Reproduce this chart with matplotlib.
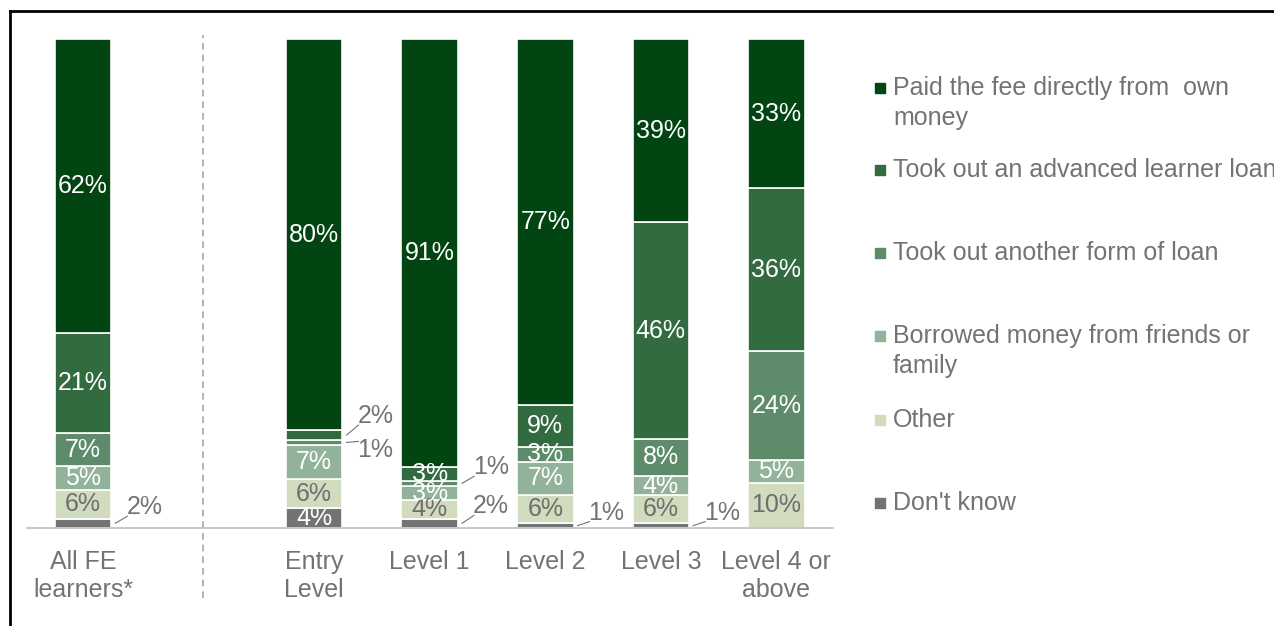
import matplotlib.pyplot as plt
import numpy as np
from matplotlib.lines import Line2D

plt.rcParams['font.family'] = ['Liberation Sans', 'DejaVu Sans']

categories = ['All FE\nlearners*', 'Entry\nLevel', 'Level 1', 'Level 2', 'Level 3', 'Level 4 or\nabove']
series = ['Paid the fee directly from  own\nmoney',
          'Took out an advanced learner loan',
          'Took out another form of loan',
          'Borrowed money from friends or\nfamily',
          'Other',
          "Don't know"]

# percentages per category (rows) and funding source (columns)
paid_own = [62, 80, 91, 77, 39, 33]
adv_loan = [21, 2, 3, 9, 46, 36]
other_loan = [7, 1, 1, 3, 8, 24]
friends = [5, 7, 3, 7, 4, 5]
other = [6, 6, 4, 6, 6, 10]
dont_know = [2, 4, 2, 1, 1, 0]

colors = ['#024412', '#336B41', '#5E8C6A', '#92B29A', '#D1DBBD', '#737373']
label_colors = ['white', 'white', 'white', 'white', '#6E6E6E', 'white']
grey = '#737373'
fs = 18

xpos = np.array([0, 2, 3, 4, 5, 6])
bw = 0.49

# small segments labelled outside the bar: (category, series) -> label offset in px
outside = {(0, 5): 16, (1, 1): 19, (1, 2): -8, (2, 2): 16, (2, 5): 17,
           (3, 5): 13, (4, 5): 13}

fig = plt.figure(figsize=(12.74, 6.26), dpi=100)
ax = fig.add_axes([27 / 1274, 1 - 528 / 626, (833 - 27) / 1274, (528 - 39) / 626])

data = np.array([paid_own, adv_loan, other_loan, friends, other, dont_know], dtype=float).T
totals = data.sum(axis=1)
shares = data / totals[:, None] * 100
px = 100 / 489  # data units per pixel vertically

for ci, x in enumerate(xpos):
    bottom = 0.0
    # stack from the bottom: don't know, other, friends, other loan, adv loan, paid
    for si in range(5, -1, -1):
        h = shares[ci, si]
        if h <= 0:
            continue
        ax.bar(x, h, bw, bottom=bottom, color=colors[si], edgecolor='white', linewidth=1.2)
        yc = bottom + h / 2
        txt = f'{data[ci, si]:.0f}%'
        if (ci, si) in outside:
            off = outside[(ci, si)] * px
            sgn = np.sign(off)
            x0 = x + bw / 2 + 4 / 115.5
            x1 = x + bw / 2 + 16 / 115.5
            ax.plot([x0, x1], [yc, yc + off - sgn * 9 * px], color=grey, lw=0.8, clip_on=False)
            ax.text(x1 - 1 / 115.5, yc + off, txt, ha='left', va='center', fontsize=fs, color=grey)
        else:
            ax.text(x, yc, txt, ha='center', va='center', fontsize=fs, color=label_colors[si])
        bottom += h

ax.set_xlim(-0.485, 6.49)
ax.set_ylim(0, 100)
for side in ['top', 'right', 'left']:
    ax.spines[side].set_visible(False)
ax.spines['bottom'].set_color('#BFBFBF')
ax.spines['bottom'].set_linewidth(1.2)
ax.set_yticks([])
ax.set_xticks(xpos)
ax.set_xticklabels(categories, fontsize=fs, color=grey)
ax.tick_params(axis='x', length=0, pad=16)

# divider between the overall bar and the level bars
ax.plot([1.04, 1.04], [-0.143, 1.008], transform=ax.get_xaxis_transform(),
        color='#A6A6A6', lw=1.2, ls=(0, (4, 3)), clip_on=False)

# legend drawn by hand
leg_y = [88, 170, 253, 336, 420, 503]
for si, name in enumerate(series):
    y = 1 - leg_y[si] / 626
    fig.patches.append(plt.Rectangle((875 / 1274, y - 5 / 626), 10 / 1274, 10 / 626,
                                     transform=fig.transFigure, color=colors[si]))
    for li, line in enumerate(name.split('\n')):
        fig.text(893 / 1274, y - li * 30 / 626, line, ha='left', va='center',
                 fontsize=fs, color=grey)

# frame around the chart
fig.add_artist(Line2D([10 / 1274, 10 / 1274], [0, 1 - 11 / 626], transform=fig.transFigure,
                      color='black', lw=2))
fig.add_artist(Line2D([10 / 1274, 1], [1 - 11 / 626, 1 - 11 / 626], transform=fig.transFigure,
                      color='black', lw=2))

fig.savefig('out.png', dpi=100)
